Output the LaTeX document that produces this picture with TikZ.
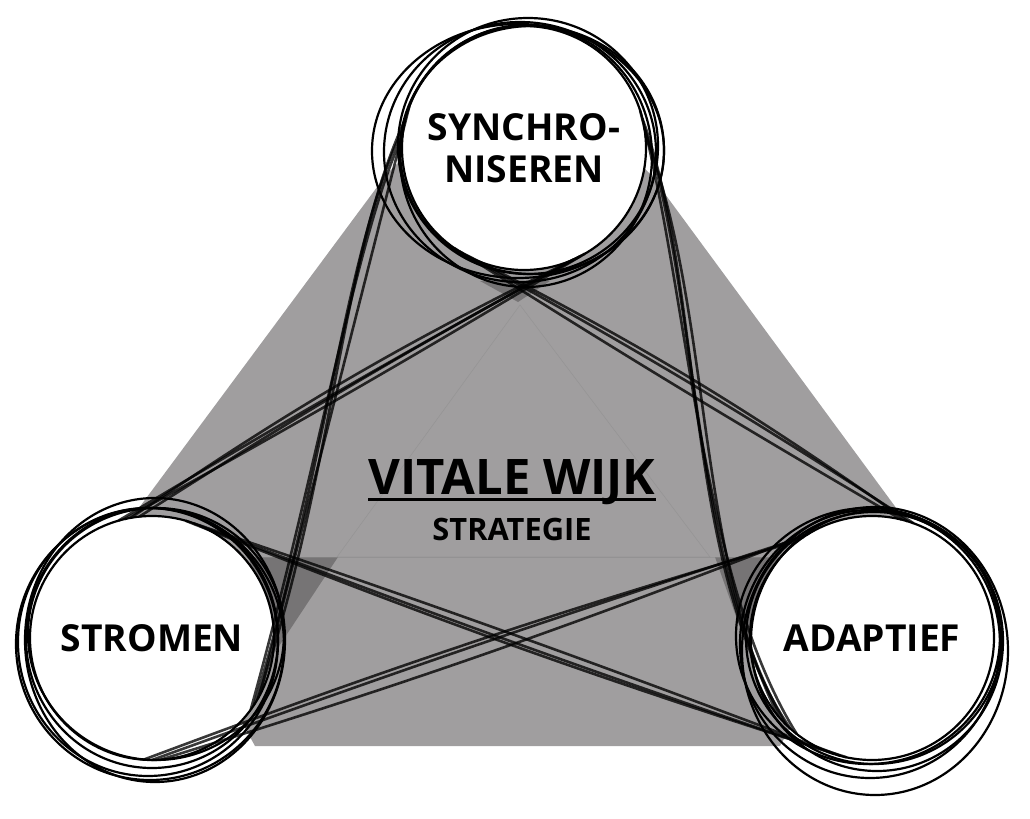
\documentclass[tikz,border=0pt]{standalone}
\usepackage{fontspec}
\setmainfont{Open Sans}
\usepackage{xcolor}
\usepackage{tikz}
\usetikzlibrary{positioning, calc}
\definecolor{wijkgrey}{RGB}{160,158,159}
\definecolor{wijkdark}{RGB}{118,116,117}

\begin{document}
\begin{tikzpicture}[x=0.5pt, y=-0.5pt,
    hub/.style={circle, draw, line width=1.1pt, fill=white, minimum size=122pt, inner sep=0pt, outer sep=0pt, align=center, font=\fontsize{18.6}{21}\selectfont\bfseries},
    ring/.style={line width=1.1pt},
    link/.style={line width=1.3pt, opacity=0.78},
    faint/.style={line width=0.3pt, black!45, opacity=0.5}]

    \useasboundingbox (0,0) rectangle (1030,819);

    % grey field
    \fill [wijkgrey] (386,175) -- (520,40) -- (651,175) -- (905,520) -- (780,746) -- (255,746) -- (130,520) -- cycle;
    \fill [wijkdark] (250,557) -- (338,557) -- (250,690) -- cycle;
    \fill [wijkdark] (715,557) -- (800,557) -- (762,690) -- cycle;
    \fill [wijkdark] (480,281) -- (550,281) -- (518,302) -- cycle;
    \draw [faint] (520,305) -- (337,557) -- (710,557) -- cycle;
    \draw [faint] (255,557) -- (800,557);

    \node (sync) [hub] at (524,148) {SYNCHRO-\\NISEREN};
    \node (stromen) [hub] at (152,638) {\raisebox{-2pt}{STROMEN}};
    \node (adaptief) [hub] at (872,638) {ADAPTIEF};

    \node (title) [font=\fontsize{24.5}{28}\selectfont\bfseries, inner sep=0pt] at (512,482) {VITALE WIJK};
    \node (sub) [font=\fontsize{15.4}{18}\selectfont\bfseries, inner sep=0pt, below=6.5pt of title] {STRATEGIE};
    \draw [line width=1.1pt] ([yshift=-2.5pt]title.base west) -- ([yshift=-2.5pt]title.base east);

    % stromen - sync
    \draw [link] (stromen.96) to[bend left=2] (sync.-60);
    \draw [link] (stromen.100) to[bend left=4] (sync.-63);
    \draw [link] (stromen.103) to[bend right=1] (sync.-62);
    \draw [link] (stromen.106) to[bend left=1] (sync.-66);
    \draw [link] (sync.170) .. controls (345,250) and (330,450) .. (stromen.-33);
    \draw [link] (sync.166) .. controls (340,260) and (335,470) .. (stromen.-30);
    \draw [link] (sync.174) .. controls (355,240) and (320,460) .. (stromen.-36);
    \draw [link] (sync.160) -- (stromen.-28);

    % sync - adaptief
    \draw [link] (sync.-118) to[bend left=2] (adaptief.70);
    \draw [link] (sync.-122) to[bend left=4] (adaptief.73);
    \draw [link] (sync.-125) to[bend right=1] (adaptief.76);
    \draw [link] (sync.10) .. controls (700,300) and (690,560) .. (adaptief.-135);
    \draw [link] (sync.14) .. controls (705,290) and (682,570) .. (adaptief.-132);
    \draw [link] (sync.6) .. controls (712,310) and (695,550) .. (adaptief.-140);
    \draw [link] (sync.18) .. controls (690,300) and (700,580) .. (adaptief.-128);

    % stromen - adaptief
    \draw [link] (stromen.70) to[bend left=1] (adaptief.-105);
    \draw [link] (stromen.74) to[bend right=2] (adaptief.-102);
    \draw [link] (stromen.67) to[bend right=1] (adaptief.-108);
    \draw [link] (stromen.-90) to[bend left=1] (adaptief.124);
    \draw [link] (stromen.-86) to[bend right=2] (adaptief.121);
    \draw [link] (stromen.-94) to[bend left=2] (adaptief.127);

    % sketch rings
    \draw [ring] ([shift={(-4,4)}]sync.center) ellipse [x radius=136, y radius=130];
    \draw [ring] ([shift={(-6,3)}]sync.center) ellipse [x radius=146, y radius=127];
    \draw [ring] ([shift={(4,-2)}]sync.center) ellipse [x radius=130, y radius=128];
    \draw [ring] ([shift={(2,8)}]sync.center) ellipse [x radius=126, y radius=131];
    \draw [ring] ([shift={(8,2)}]sync.center) ellipse [x radius=132, y radius=124];

    \draw [ring] ([shift={(3,2)}]stromen.center) ellipse [x radius=130, y radius=142];
    \draw [ring] ([shift={(0,0)}]stromen.center) ellipse [x radius=126, y radius=130];
    \draw [ring] ([shift={(-4,4)}]stromen.center) ellipse [x radius=130, y radius=134];
    \draw [ring] ([shift={(4,-4)}]stromen.center) ellipse [x radius=128, y radius=126];
    \draw [ring] ([shift={(-2,6)}]stromen.center) ellipse [x radius=134, y radius=136];

    \draw [ring] ([shift={(3,13)}]adaptief.center) ellipse [x radius=133, y radius=144];
    \draw [ring] ([shift={(2,0)}]adaptief.center) ellipse [x radius=128, y radius=126];
    \draw [ring] ([shift={(-2,6)}]adaptief.center) ellipse [x radius=130, y radius=134];
    \draw [ring] ([shift={(5,3)}]adaptief.center) ellipse [x radius=126, y radius=130];
    \draw [ring] ([shift={(-4,-2)}]adaptief.center) ellipse [x radius=132, y radius=128];
\end{tikzpicture}
\end{document}
